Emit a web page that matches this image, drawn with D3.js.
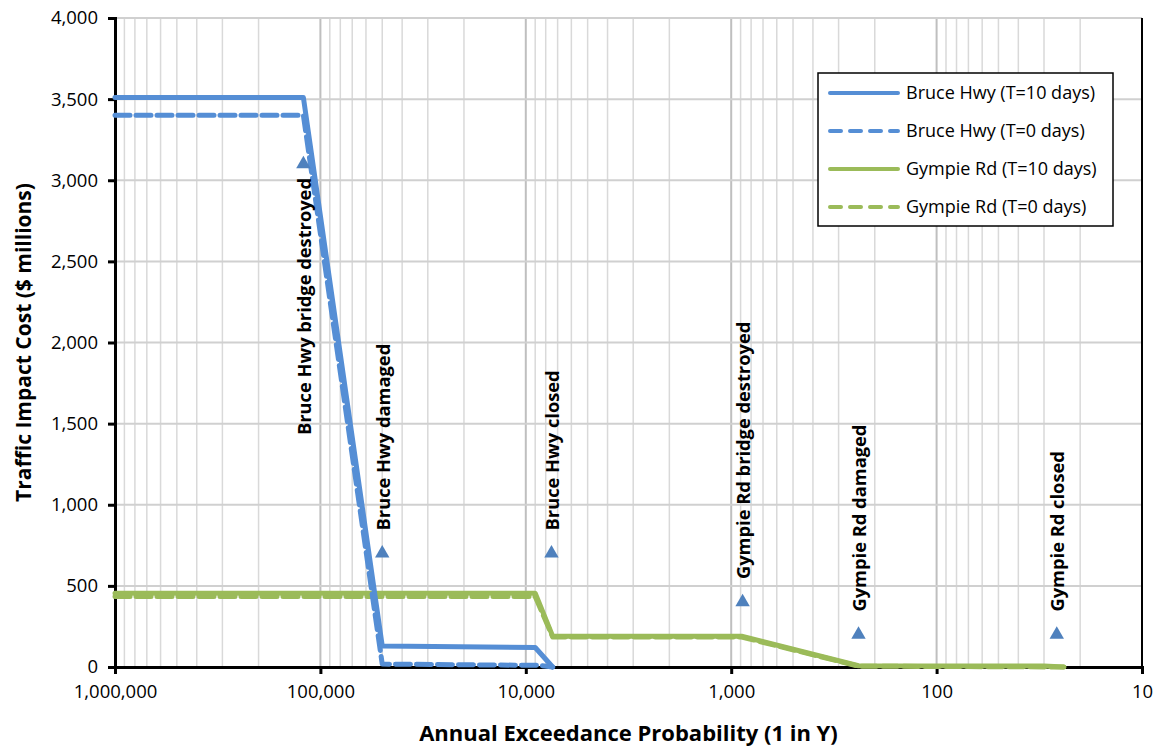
<!DOCTYPE html>
<html>
<head>
<meta charset="utf-8">
<script src="https://cdn.jsdelivr.net/npm/d3@7"></script>
<style>
  body { margin: 0; background: #fff; }
  text { font-family: "Open Sans", sans-serif; }
</style>
</head>
<body>
<div id="chart"></div>
<script>
// data
var bruce10X = [1000000, 121000, 50000, 9000, 7400];
var bruce10Y = [3510, 3510, 130, 120, 0];
var bruce0X = [1000000, 121000, 50000, 8500, 7400];
var bruce0Y = [3400, 3400, 18, 10, 0];
var gympie10X = [1000000, 9000, 7400, 890, 240, 30, 24];
var gympie10Y = [455, 455, 190, 190, 8, 6, 0];
var gympie0X = [1000000, 9000, 7400, 890, 240, 24];
var gympie0Y = [435, 435, 185, 185, 5, 0];

var eventX = [121000, 50000, 7500, 880, 240, 26];
var eventY = [3100, 700, 700, 400, 200, 200];
var eventLabels = ["Bruce Hwy bridge destroyed", "Bruce Hwy damaged", "Bruce Hwy closed",
                   "Gympie Rd bridge destroyed", "Gympie Rd damaged", "Gympie Rd closed"];
var eventLabelSide = ["below", "above", "above", "above", "above", "above"];

var xTicks = [1000000, 100000, 10000, 1000, 100, 10];
var yTicks = [0, 500, 1000, 1500, 2000, 2500, 3000, 3500, 4000];

var seriesNames = ["Bruce Hwy (T=10 days)", "Bruce Hwy (T=0 days)", "Gympie Rd (T=10 days)", "Gympie Rd (T=0 days)"];

var blue = "#558ed5", green = "#9bbb59", markerBlue = "#4f81bd";

var series = [
  {name: seriesNames[0], xs: bruce10X, ys: bruce10Y, color: blue, dash: null},
  {name: seriesNames[1], xs: bruce0X, ys: bruce0Y, color: blue, dash: "15,6"},
  {name: seriesNames[2], xs: gympie10X, ys: gympie10Y, color: green, dash: null},
  {name: seriesNames[3], xs: gympie0X, ys: gympie0Y, color: green, dash: "15,6"}
];

var W = 1160, H = 747;
var margin = {top: 18, right: 18, bottom: 80, left: 115};

var svg = d3.select("#chart").append("svg")
    .attr("width", W)
    .attr("height", H);

var x = d3.scaleLog()
    .domain([1000000, 10])
    .range([margin.left, W - margin.right]);

var y = d3.scaleLinear()
    .domain([0, 4000])
    .range([H - margin.bottom, margin.top]);

// minor vertical gridlines
var minor = [];
for (var e = 1; e < 6; e++) {
  for (var k = 2; k < 10; k++) minor.push(k * Math.pow(10, e));
}
svg.append("g").selectAll("line")
  .data(minor)
  .enter().append("line")
    .attr("x1", function(d) { return x(d); })
    .attr("x2", function(d) { return x(d); })
    .attr("y1", y(0))
    .attr("y2", y(4000))
    .attr("stroke", "#d9d9d9")
    .attr("stroke-width", 1.5);

// major vertical gridlines
svg.append("g").selectAll("line")
  .data(xTicks.slice(1, -1))
  .enter().append("line")
    .attr("x1", function(d) { return x(d); })
    .attr("x2", function(d) { return x(d); })
    .attr("y1", y(0))
    .attr("y2", y(4000))
    .attr("stroke", "#bfbfbf")
    .attr("stroke-width", 2);

// horizontal gridlines
svg.append("g").selectAll("line")
  .data(yTicks.slice(1))
  .enter().append("line")
    .attr("x1", x(1000000))
    .attr("x2", x(10))
    .attr("y1", function(d) { return y(d); })
    .attr("y2", function(d) { return y(d); })
    .attr("stroke", "#d0d0d0")
    .attr("stroke-width", 2);

// axes
var xAxis = svg.append("g")
    .attr("transform", "translate(0," + y(0) + ")")
    .call(d3.axisBottom(x).tickValues(xTicks).tickFormat(d3.format(",")).tickSize(7).tickPadding(11));
var yAxis = svg.append("g")
    .attr("transform", "translate(" + x(1000000) + ",0)")
    .call(d3.axisLeft(y).tickValues(yTicks).tickFormat(d3.format(",")).tickSize(7).tickPadding(10));

[xAxis, yAxis].forEach(function(a) {
  a.select(".domain").attr("stroke", "#000").attr("stroke-width", 3);
  a.selectAll(".tick line").attr("stroke", "#000").attr("stroke-width", 3);
  a.selectAll(".tick text").attr("font-size", 18.5).attr("fill", "#000")
    .style("font-family", "'Open Sans', sans-serif");
});

// right border
svg.append("line")
  .attr("x1", x(10)).attr("x2", x(10))
  .attr("y1", y(0)).attr("y2", y(4000))
  .attr("stroke", "#000").attr("stroke-width", 2);

// lines
var line = d3.line()
    .x(function(d) { return x(d[0]); })
    .y(function(d) { return y(d[1]); });

svg.append("g").selectAll("path")
  .data(series.slice().reverse())
  .enter().append("path")
    .attr("d", function(s) { return line(d3.zip(s.xs, s.ys)); })
    .attr("fill", "none")
    .attr("stroke", function(s) { return s.color; })
    .attr("stroke-width", 5)
    .attr("stroke-linejoin", "round")
    .attr("stroke-linecap", "round")
    .attr("stroke-dasharray", function(s) { return s.dash; });

// event markers
var events = d3.zip(eventX, eventY, eventLabels, eventLabelSide);
svg.append("g").selectAll("path")
  .data(events)
  .enter().append("path")
    .attr("d", d3.symbol().type(d3.symbolTriangle).size(90))
    .attr("transform", function(d) { return "translate(" + x(d[0]) + "," + y(d[1]) + ")"; })
    .attr("fill", markerBlue);

svg.append("g").selectAll("text")
  .data(events)
  .enter().append("text")
    .attr("transform", function(d) {
      var yy = d[3] === "below" ? y(d[1]) + 14 : y(d[1]) - 23;
      return "translate(" + (x(d[0]) + 1) + "," + yy + ") rotate(-90)";
    })
    .attr("text-anchor", function(d) { return d[3] === "below" ? "end" : "start"; })
    .attr("dy", "0.35em")
    .attr("font-size", 18.3)
    .attr("font-weight", "bold")
    .attr("fill", "#000")
    .text(function(d) { return d[2]; });

// axis titles
svg.append("text")
  .attr("x", (x(1000000) + x(10)) / 2)
  .attr("y", 741)
  .attr("text-anchor", "middle")
  .attr("font-size", 22)
  .attr("font-weight", "bold")
  .text("Annual Exceedance Probability (1 in Y)");

svg.append("text")
  .attr("transform", "translate(31," + (y(0) + y(4000)) / 2 + ") rotate(-90)")
  .attr("text-anchor", "middle")
  .attr("font-size", 21)
  .attr("font-weight", "bold")
  .text("Traffic Impact Cost ($ millions)");

// legend
var legend = svg.append("g").attr("transform", "translate(818,73)");
legend.append("rect")
  .attr("width", 295)
  .attr("height", 153)
  .attr("fill", "#fff")
  .attr("stroke", "#000")
  .attr("stroke-width", 1.5);

var item = legend.selectAll(".item")
  .data(series)
  .enter().append("g")
    .attr("transform", function(s, i) { return "translate(0," + (20 + i * 38) + ")"; });
item.append("line")
  .attr("x1", 12).attr("x2", 80)
  .attr("stroke", function(s) { return s.color; })
  .attr("stroke-width", 4)
  .attr("stroke-linecap", "round")
  .attr("stroke-dasharray", function(s) { return s.dash ? "11,9" : null; });
item.append("text")
  .attr("x", 88)
  .attr("dy", "0.35em")
  .attr("font-size", 18)
  .text(function(s) { return s.name; });
</script>
</body>
</html>
